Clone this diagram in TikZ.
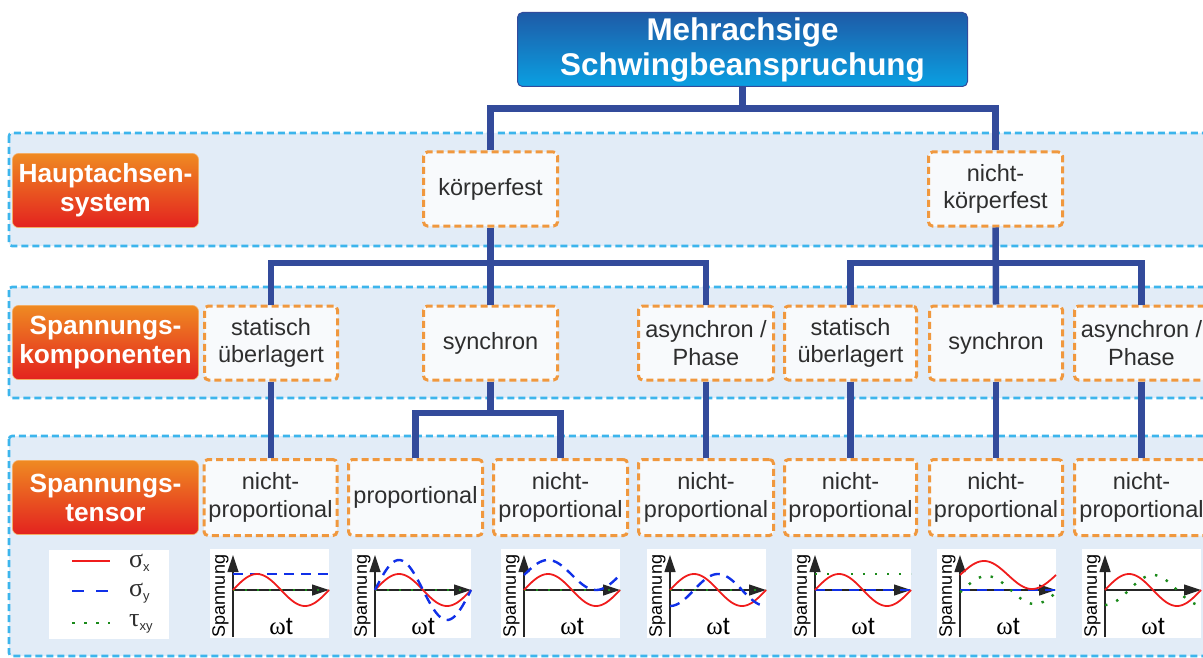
\documentclass[tikz,border=0pt]{standalone}
\usepackage{fontspec}
\setmainfont{Liberation Sans}
\newfontfamily\serifgr{Liberation Serif}
\usetikzlibrary{arrows.meta}

\definecolor{bandfill}{HTML}{E2ECF7}
\definecolor{bandline}{HTML}{3DB5EC}
\definecolor{boxline}{HTML}{F0983E}
\definecolor{boxfill}{HTML}{F8FAFC}
\definecolor{connc}{HTML}{334B9B}
\definecolor{titletop}{HTML}{1E5BA7}
\definecolor{titlebot}{HTML}{0AA0E2}
\definecolor{labtop}{HTML}{EF8A22}
\definecolor{labbot}{HTML}{E3221F}
\definecolor{txt}{HTML}{2E2E2E}
\definecolor{sred}{HTML}{F01C1C}
\definecolor{sblue}{HTML}{1030E8}
\definecolor{sgreen}{HTML}{1A8A1A}

\newcommand\gsym[2]{{\serifgr\fontsize{26}{26}\selectfont #1}\raisebox{-4pt}{\fontsize{13}{13}\selectfont #2}}

% #1 left x, #2 id, #3 curves
\newcommand\wplot[3]{%
  \begin{scope}[shift={(#1,590)}]
    \fill[white] (0,-41) rectangle (119,48);
    \draw[axisl] (23,47) -- (23,-35);
    \draw[axisl] (23,0) -- (119,0);
    \node[rotate=90, inner sep=0pt, font=\fontsize{18}{18}\selectfont] (sp#2) at (10.5,6) {Spannung};
    \node[inner sep=0pt, font=\fontsize{25}{25}\selectfont] (wt#2) at (71,37) {{\serifgr ω}t};
    #3
  \end{scope}}

\begin{document}
\begin{tikzpicture}[x=1pt,y=-1pt,
  band/.style={draw=bandline, fill=bandfill, line width=2.6pt, dash pattern=on 7pt off 4pt, rounded corners=3pt},
  catbox/.style={draw=boxline, fill=boxfill, line width=3pt, dash pattern=on 7pt off 4pt, rounded corners=4pt,
     minimum height=74pt, inner sep=0pt, text=txt, align=center, font=\fontsize{23.5}{27.5}\selectfont},
  rowlab/.style={draw=labtop!70, line width=0.6pt, top color=labtop, bottom color=labbot, rounded corners=6pt,
     minimum width=186pt, minimum height=74pt, inner sep=0pt, text=white, align=center,
     font=\bfseries\fontsize{26.3}{29}\selectfont},
  titlebox/.style={draw=connc, line width=1pt, top color=titletop, bottom color=titlebot, rounded corners=5pt,
     minimum width=450pt, minimum height=74pt, inner sep=0pt, text=white, align=center,
     font=\bfseries\fontsize{31.4}{35}\selectfont},
  conn/.style={draw=connc, line width=6.5pt},
  axisl/.style={draw=black!85, line width=1.2pt, -{Triangle[length=17pt,width=11pt]}},
  redc/.style={draw=sred, line width=1.8pt},
  bluec/.style={draw=sblue, line width=2.4pt, dash pattern=on 10pt off 7pt},
  greenc/.style={draw=sgreen, line width=2.4pt, dash pattern=on 2.4pt off 9.6pt},
]
\useasboundingbox (0,0) rectangle (1203,658);
\clip (0,0) rectangle (1203,658);

% bands
\draw[band] (9,133) rectangle (1220,246);
\draw[band] (9,287) rectangle (1220,398);
\draw[band] (9,436) rectangle (1220,656);

% title
\node[titlebox] (title) at (742.5,49.5) {Mehrachsige\\Schwingbeanspruchung};

% row labels
\node[rowlab] (hs) at (105.5,190.5) {Hauptachsen-\\system};
\node[rowlab] (sk) at (105.5,342.5) {Spannungs-\\komponenten};
\node[rowlab] (st) at (105.5,497.5) {Spannungs-\\tensor};

% row 1
\node[catbox, minimum width=134pt] (kf) at (490.5,189) {körperfest};
\node[catbox, minimum width=134pt] (nkf) at (995.5,189) {nicht-\\körperfest};

% row 2
\node[catbox, minimum width=133pt] (su1) at (271,343) {statisch\\überlagert};
\node[catbox, minimum width=134pt] (sy1) at (490.5,343) {synchron};
\node[catbox, minimum width=135pt] (as1) at (706,343) {asynchron /\\Phase};
\node[catbox, minimum width=132pt] (su2) at (850.5,343) {statisch\\überlagert};
\node[catbox, minimum width=133pt] (sy2) at (996,343) {synchron};
\node[catbox, minimum width=134pt] (as2) at (1141.5,343) {asynchron /\\Phase};

% row 3
\node[catbox, minimum width=133pt, minimum height=76pt] (np1) at (270.5,497.5) {nicht-\\proportional};
\node[catbox, minimum width=134pt, minimum height=76pt] (pr) at (415.5,497.5) {proportional};
\node[catbox, minimum width=134pt, minimum height=76pt] (np2) at (560.5,497.5) {nicht-\\proportional};
\node[catbox, minimum width=135pt, minimum height=76pt] (np3) at (706,497.5) {nicht-\\proportional};
\node[catbox, minimum width=132pt, minimum height=76pt] (np4) at (850.5,497.5) {nicht-\\proportional};
\node[catbox, minimum width=133pt, minimum height=76pt] (np5) at (996,497.5) {nicht-\\proportional};
\node[catbox, minimum width=134pt, minimum height=76pt] (np6) at (1141.5,497.5) {nicht-\\proportional};

% connectors
\coordinate (h1) at (743,108.5);
\coordinate (h2) at (490.5,263);
\coordinate (h3) at (996,263);
\coordinate (h4) at (490.5,413);
\draw[conn] (title.south) -- (title.south |- h1);
\draw[conn] (kf.north) |- (h1) -| (nkf.north);
\draw[conn] (kf.south) -- (sy1.north);
\draw[conn] (su1.north) |- (h2) -| (as1.north);
\draw[conn] (nkf.south) -- (sy2.north);
\draw[conn] (su2.north) |- (h3) -| (as2.north);
\draw[conn] (su1.south) -- (su1.south |- np1.north);
\draw[conn] (sy1.south) -- (h4);
\draw[conn] (pr.north) |- (h4) -| (np2.north);
\draw[conn] (as1.south) -- (np3.north);
\draw[conn] (su2.south) -- (np4.north);
\draw[conn] (sy2.south) -- (np5.north);
\draw[conn] (as2.south) -- (np6.north);

% legend
\fill[white] (49,550) rectangle (169,639);
\coordinate (lr0) at (72,561); \coordinate (lr1) at (110,561);
\coordinate (lb0) at (72,591); \coordinate (lb1) at (110,591);
\coordinate (lg0) at (72,623); \coordinate (lg1) at (110,623);
\draw[redc, line width=2.4pt] (lr0) -- (lr1);
\draw[bluec, dash pattern=on 12pt off 12pt] (lb0) -- (lb1);
\draw[greenc, dash pattern=on 2.6pt off 9.4pt] (lg0) -- (lg1);
\node[anchor=west, inner sep=0pt, text=txt] (lsx) at (129,563) {\gsym{σ}{x}};
\node[anchor=west, inner sep=0pt, text=txt] (lsy) at (129,593) {\gsym{σ}{y}};
\node[anchor=west, inner sep=0pt, text=txt] (ltxy) at (129,624) {\gsym{τ}{xy}};

% plots
\wplot{210}{1}{%
  \draw[greenc] (23,0) -- (119,0);
  \draw[bluec] (23,-16) -- (119,-16);
  \draw[redc] plot[domain=0:96, samples=60, smooth] ({23+\x},{-16*sin(3.75*\x)});}
\wplot{352}{2}{%
  \draw[greenc] (23,0) -- (119,0);
  \draw[redc] plot[domain=0:96, samples=60, smooth] ({23+\x},{-16*sin(3.75*\x)});
  \draw[bluec] plot[domain=0:96, samples=60, smooth] ({23+\x},{-30*sin(3.75*\x)});}
\wplot{501}{3}{%
  \draw[greenc] (23,0) -- (119,0);
  \draw[redc] plot[domain=0:96, samples=60, smooth] ({23+\x},{-16*sin(3.75*\x)});
  \draw[bluec] plot[domain=0:96, samples=60, smooth] ({23+\x},{-15-15*sin(3.75*\x)});}
\wplot{647}{4}{%
  \draw[greenc] (23,0) -- (119,0);
  \draw[redc] plot[domain=0:96, samples=60, smooth] ({23+\x},{-16*sin(3.75*\x)});
  \draw[bluec] plot[domain=0:96, samples=60, smooth] ({23+\x},{16*cos(3.75*\x)});}
\wplot{792}{5}{%
  \draw[bluec] (23,0) -- (119,0);
  \draw[greenc] (23,-16) -- (119,-16);
  \draw[redc] plot[domain=0:96, samples=60, smooth] ({23+\x},{-16*sin(3.75*\x)});}
\wplot{937}{6}{%
  \draw[bluec] (23,0) -- (119,0);
  \draw[greenc] plot[domain=0:96, samples=60, smooth] ({23+\x},{-14*sin(3.75*\x-10)});
  \draw[redc] plot[domain=0:96, samples=60, smooth] ({23+\x},{-15-14*sin(3.75*\x)});}
\wplot{1082}{7}{%
  \draw[greenc] plot[domain=0:96, samples=60, smooth] ({23+\x},{15*cos(3.75*\x)});
  \draw[redc] plot[domain=0:96, samples=60, smooth] ({23+\x},{-16*sin(3.75*\x)});}

\end{tikzpicture}
\end{document}
